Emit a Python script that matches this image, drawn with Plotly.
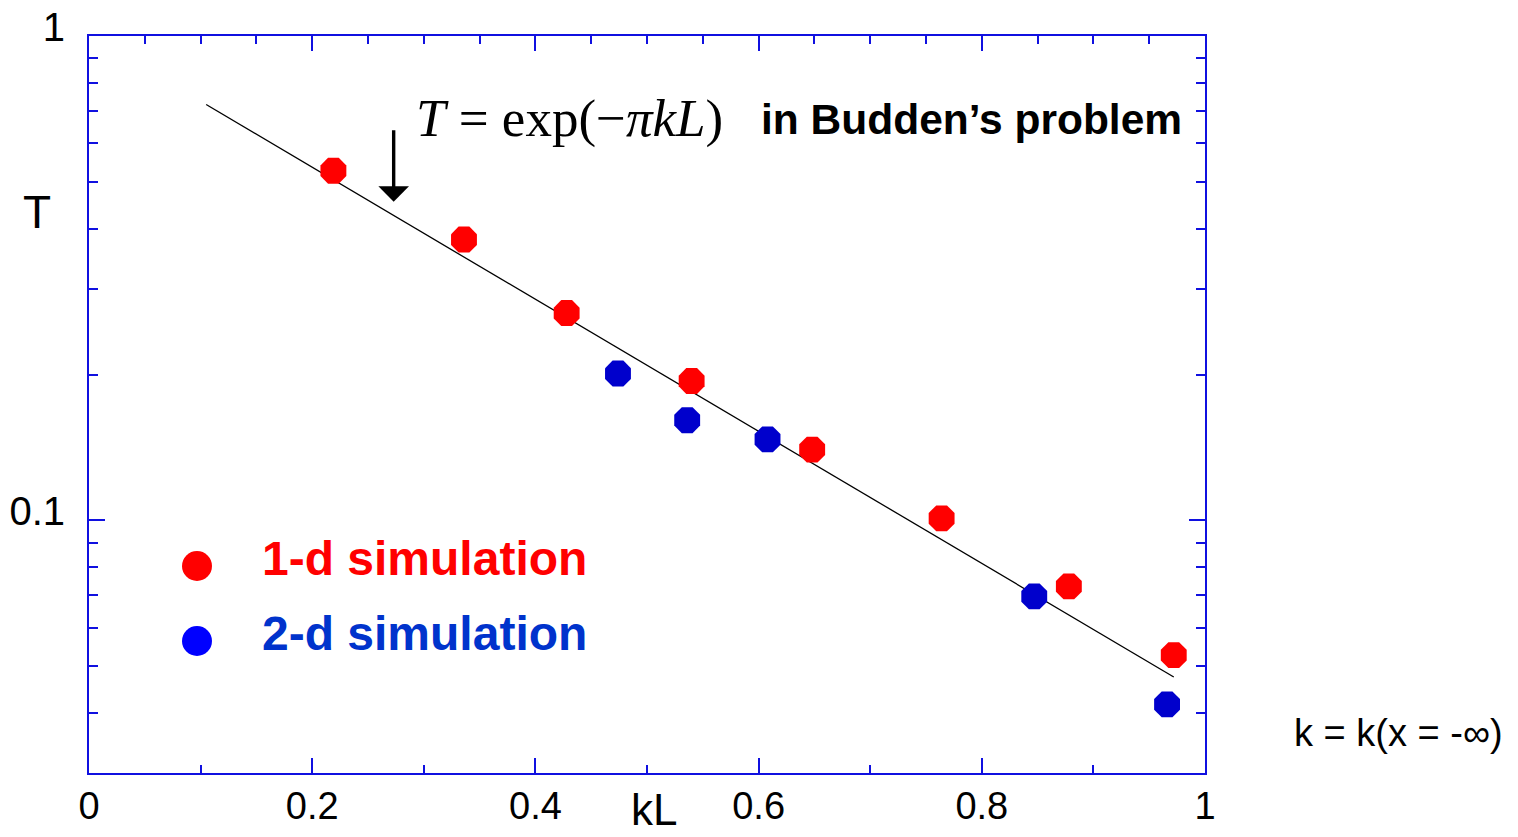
import math
import plotly.graph_objects as go

# 1-d simulation results: kL and transmission T
kl_1d = [0.219, 0.336, 0.428, 0.540, 0.648, 0.764, 0.878, 0.972]
t_1d = [0.527, 0.380, 0.268, 0.194, 0.140, 0.101, 0.0731, 0.0527]

# 2-d simulation results
kl_2d = [0.474, 0.536, 0.608, 0.847, 0.966]
t_2d = [0.201, 0.161, 0.147, 0.0697, 0.0417]

# Budden's result T = exp(-pi kL), straight on the log axis (end points)
kl_theory = [0.105, 0.972]
t_theory = [0.722, 0.0475]

# arrow pointing at the theory line
arrow_kl = 0.273
arrow_t = 0.455

y_major = [0.1, 1]
y_major_text = ["0.1", "1"]
y_minor = [0.04, 0.05, 0.06, 0.07, 0.08, 0.09, 0.2, 0.3, 0.4, 0.5, 0.6, 0.7, 0.8, 0.9]

AXIS_BLUE = "#1010e0"
SANS = "Liberation Sans, Arial, sans-serif"
SERIF = "Liberation Serif, Times New Roman, serif"

y_range = [math.log10(0.0301), 0]

fig = go.Figure()

fig.add_trace(go.Scatter(
    x=kl_theory, y=t_theory, mode="lines",
    line=dict(color="black", width=1.3),
    showlegend=False, hoverinfo="skip",
))
fig.add_trace(go.Scatter(
    x=kl_1d, y=t_1d, mode="markers",
    marker=dict(symbol="octagon", size=28, color="#ff0000", line=dict(width=0)),
    showlegend=False,
))
fig.add_trace(go.Scatter(
    x=kl_2d, y=t_2d, mode="markers",
    marker=dict(symbol="octagon", size=28, color="#0000cc", line=dict(width=0)),
    showlegend=False,
))
# carrier for the top axis
fig.add_trace(go.Scatter(x=[], y=[], xaxis="x2", yaxis="y", showlegend=False, hoverinfo="skip"))

fig.update_layout(
    width=1518, height=837,
    margin=dict(l=89, r=313, t=36, b=64, autoexpand=False),
    paper_bgcolor="white", plot_bgcolor="white",
    font=dict(family=SANS, color="black"),
    xaxis=dict(
        range=[0, 1], showgrid=False, zeroline=False, automargin=False,
        showline=True, linecolor=AXIS_BLUE, linewidth=2,
        ticks="inside", tickcolor=AXIS_BLUE, tickwidth=2, ticklen=15,
        tickmode="linear", tick0=0, dtick=0.2,
        tickfont=dict(size=38, family=SANS, color="black"),
        ticklabelstandoff=-2,
        minor=dict(ticks="inside", dtick=0.1, tick0=0, ticklen=8,
                   tickcolor=AXIS_BLUE, tickwidth=2, showgrid=False),
    ),
    xaxis2=dict(
        range=[0, 1], overlaying="x", side="top", showgrid=False, zeroline=False,
        automargin=False,
        showline=True, linecolor=AXIS_BLUE, linewidth=2,
        ticks="inside", tickcolor=AXIS_BLUE, tickwidth=2, ticklen=15,
        tickmode="linear", tick0=0, dtick=0.2, showticklabels=False,
        minor=dict(ticks="inside", dtick=0.05, tick0=0, ticklen=8,
                   tickcolor=AXIS_BLUE, tickwidth=2, showgrid=False),
    ),
    yaxis=dict(
        type="log", range=y_range, showgrid=False, zeroline=False, automargin=False,
        showline=True, linecolor=AXIS_BLUE, linewidth=2, mirror="ticks",
        ticks="inside", tickcolor=AXIS_BLUE, tickwidth=2, ticklen=16,
        tickmode="array", tickvals=y_major, ticktext=y_major_text,
        tickfont=dict(size=40, family=SANS, color="black"),
        ticklabelstandoff=14, ticklabelshift=-9,
        minor=dict(ticks="inside", tickmode="array", tickvals=y_minor, ticklen=9,
                   tickcolor=AXIS_BLUE, tickwidth=2, showgrid=False),
    ),
    showlegend=False,
)

annotations = [
    # axis titles
    dict(text="T", x=37, y=212, showarrow=False,
         font=dict(size=46, family=SANS, color="black")),
    dict(text="kL", x=654, y=809, showarrow=False,
         font=dict(size=44, family=SANS, color="black")),
    dict(text="k = k(x = -∞)", x=1398, y=733, showarrow=False,
         font=dict(size=38, family=SANS, color="black")),
    # theory label
    dict(text="<i>T</i> = exp(−<i>πkL</i>)", x=414, y=118, showarrow=False, xanchor="left",
         font=dict(size=53, family=SERIF, color="black")),
    dict(text="<b>in Budden’s problem</b>", x=759, y=119, showarrow=False, xanchor="left",
         font=dict(size=42.5, family=SANS, color="black")),
    # legend texts
    dict(text="<b>1-d simulation</b>", x=260, y=558, showarrow=False, xanchor="left",
         font=dict(size=48, family=SANS, color="#ff0000")),
    dict(text="<b>2-d simulation</b>", x=260, y=633, showarrow=False, xanchor="left",
         font=dict(size=48, family=SANS, color="#0033cc")),
]

# convert pixel placements of text to paper coordinates
PX_L, PX_R, PX_T, PX_B = 89, 1205, 36, 773
for a in annotations:
    a["x"] = (a["x"] - PX_L) / (PX_R - PX_L)
    a["y"] = (PX_B - a["y"]) / (PX_B - PX_T)
    a["xref"] = "paper"
    a["yref"] = "paper"
    a.setdefault("xanchor", "center")
    a["yanchor"] = "middle"

annotations.append(dict(
    x=arrow_kl, y=math.log10(arrow_t), xref="x", yref="y",
    ax=0, ay=-73, axref="pixel", ayref="pixel",
    showarrow=True, arrowhead=1, arrowsize=1.5, arrowwidth=3.4, arrowcolor="black",
    text="",
))
fig.update_layout(annotations=annotations)

# legend keys
for py, col in [(566, "#ff0000"), (641, "#0000ff")]:
    fig.add_shape(
        type="circle", xref="paper", yref="paper",
        xsizemode="pixel", ysizemode="pixel",
        xanchor=(197 - PX_L) / (PX_R - PX_L), yanchor=(PX_B - py) / (PX_B - PX_T),
        x0=-15, x1=15, y0=-15, y1=15,
        fillcolor=col, line=dict(width=0),
    )

fig.write_html("out.html")
